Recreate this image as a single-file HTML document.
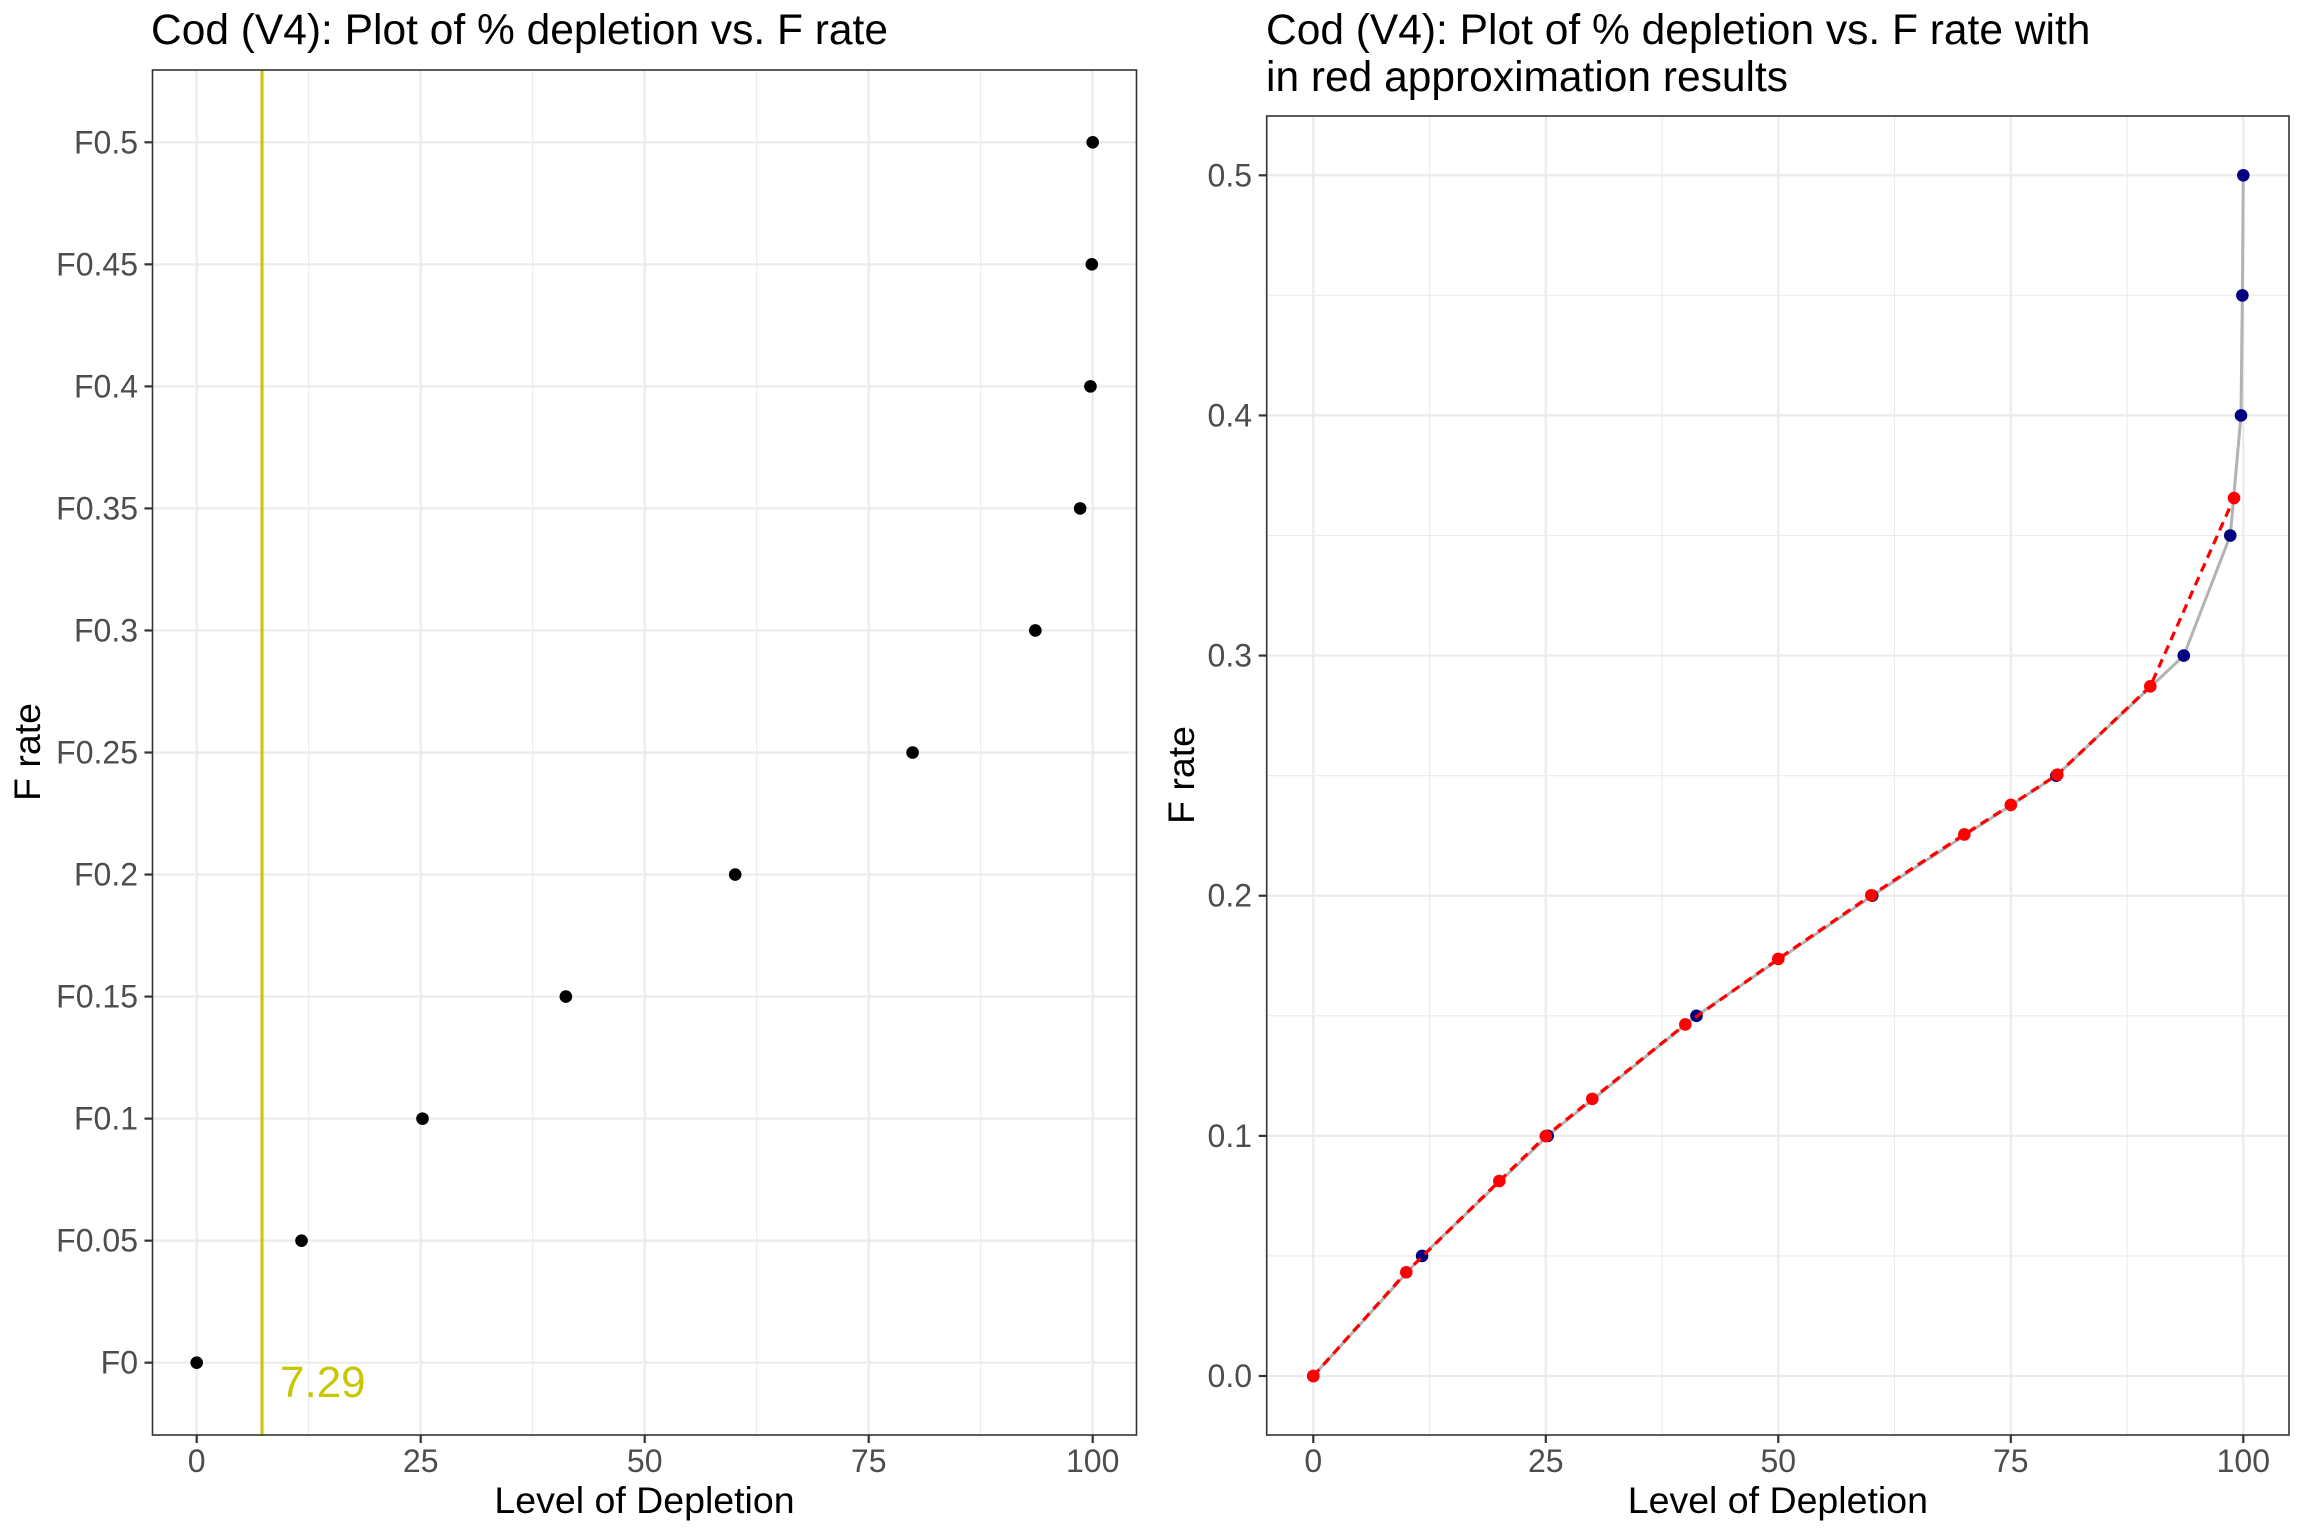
<!DOCTYPE html>
<html><head><meta charset="utf-8"><style>
html,body{margin:0;padding:0;background:#fff;}
svg{display:block;font-family:"Liberation Sans",Arial,sans-serif;}
</style></head><body>
<svg id="c" width="2304" height="1536" viewBox="0 0 2304 1536" xmlns="http://www.w3.org/2000/svg">
<rect x="0" y="0" width="2304" height="1536" fill="#fff"/>
<g id="left"></g>
<g id="right"></g>
</svg>
<script>
// Left chart data
const leftFLabels = ["F0","F0.05","F0.1","F0.15","F0.2","F0.25","F0.3","F0.35","F0.4","F0.45","F0.5"];
const leftDepletion = [0, 11.7, 25.2, 41.2, 60.1, 79.9, 93.6, 98.6, 99.75, 99.9, 100];
const leftXTicks = [0, 25, 50, 75, 100];
const refLineValue = 7.29;
// Right chart data
const rightXTicks = [0, 25, 50, 75, 100];
const rightYTicks = [0, 0.1, 0.2, 0.3, 0.4, 0.5];
const rightYTickLabels = ["0.0","0.1","0.2","0.3","0.4","0.5"];
const blueF = [0, 0.05, 0.1, 0.15, 0.2, 0.25, 0.3, 0.35, 0.4, 0.45, 0.5];
const blueDepletion = [0, 11.7, 25.2, 41.2, 60.1, 79.9, 93.6, 98.6, 99.75, 99.9, 100];
const redDepletion = [0, 10, 20, 25, 30, 40, 50, 60, 70, 75, 80, 90, 99];
const redF = [0, 0.0432, 0.0812, 0.0999, 0.1154, 0.1464, 0.1737, 0.2002, 0.2255, 0.2378, 0.2504, 0.2872, 0.3656];

const NS="http://www.w3.org/2000/svg";
function mk(parent,tag,attrs,text){const e=document.createElementNS(NS,tag);for(const k in attrs)e.setAttribute(k,attrs[k]);if(text!==undefined)e.textContent=text;parent.appendChild(e);return e;}
const GRID="#ebebeb", TICKLBL="#4d4d4d";
const TFS=32, AFS=37.5, TTFS=42.5;

// ---------- LEFT ----------
(function(){
const g=document.getElementById('left');
const L={x0:152.5,x1:1136.5,y0:70,y1:1435};
const xs=v=>196.7+(1092.7-196.7)*v/100;
const ys=i=>1362.7-(1362.7-142.3)*i/10;
for(let i=0;i<leftXTicks.length-1;i++){const m=(leftXTicks[i]+leftXTicks[i+1])/2;
 const l=mk(g,'line',{x1:xs(m),x2:xs(m),y1:L.y0,y2:L.y1,stroke:GRID,'stroke-width':1.1});
 }
leftFLabels.forEach((lab,i)=>{const l=mk(g,'line',{x1:L.x0,x2:L.x1,y1:ys(i),y2:ys(i),stroke:GRID,'stroke-width':2.2});
 });
leftXTicks.forEach(v=>{const l=mk(g,'line',{x1:xs(v),x2:xs(v),y1:L.y0,y2:L.y1,stroke:GRID,'stroke-width':2.2});
 });
const rl=mk(g,'line',{x1:xs(refLineValue),x2:xs(refLineValue),y1:L.y0,y2:L.y1,stroke:'#c8c800','stroke-width':3});

const rt=mk(g,'text',{x:xs(refLineValue)+18,y:1397,fill:'#c8c800','font-size':44},String(refLineValue));

leftDepletion.forEach((d,i)=>{const c=mk(g,'circle',{cx:xs(d),cy:ys(i),r:6.3,fill:'#000'});
 });
const b=mk(g,'rect',{x:L.x0,y:L.y0,width:L.x1-L.x0,height:L.y1-L.y0,fill:'none',stroke:'#333','stroke-width':1.6});

leftXTicks.forEach(v=>{mk(g,'line',{x1:xs(v),x2:xs(v),y1:L.y1,y2:L.y1+8,stroke:'#333','stroke-width':2.2});
 const t=mk(g,'text',{x:xs(v),y:1472,'text-anchor':'middle','font-size':TFS,fill:TICKLBL},String(v));
 });
leftFLabels.forEach((lab,i)=>{mk(g,'line',{x1:L.x0-8,x2:L.x0,y1:ys(i),y2:ys(i),stroke:'#333','stroke-width':2.2});
 const t=mk(g,'text',{x:138,y:ys(i)+11,'text-anchor':'end','font-size':TFS,fill:TICKLBL},lab);
 });
const xt=mk(g,'text',{x:(L.x0+L.x1)/2,y:1513,'text-anchor':'middle','font-size':AFS,fill:'#000'},'Level of Depletion');

const yt=mk(g,'text',{x:0,y:0,'text-anchor':'middle','font-size':AFS,fill:'#000',transform:'translate(40,752) rotate(-90)'},'F rate');

const ti=mk(g,'text',{x:151,y:44,'font-size':TTFS,fill:'#000'},'Cod (V4): Plot of % depletion vs. F rate');

})();

// ---------- RIGHT ----------
(function(){
const g=document.getElementById('right');
const R={x0:1266.7,x1:2289,y0:116,y1:1435};
const xs=v=>1313.3+(2243.3-1313.3)*v/100;
const ys=v=>1376-(1376-175.3)*v/0.5;
for(let i=0;i<rightXTicks.length-1;i++){const m=(rightXTicks[i]+rightXTicks[i+1])/2;
 const l=mk(g,'line',{x1:xs(m),x2:xs(m),y1:R.y0,y2:R.y1,stroke:GRID,'stroke-width':1.1});
 }
for(let i=0;i<rightYTicks.length-1;i++){const m=(rightYTicks[i]+rightYTicks[i+1])/2;
 const l=mk(g,'line',{x1:R.x0,x2:R.x1,y1:ys(m),y2:ys(m),stroke:GRID,'stroke-width':1.1});
 }
rightYTicks.forEach(v=>{const l=mk(g,'line',{x1:R.x0,x2:R.x1,y1:ys(v),y2:ys(v),stroke:GRID,'stroke-width':2.2});
 });
rightXTicks.forEach(v=>{const l=mk(g,'line',{x1:xs(v),x2:xs(v),y1:R.y0,y2:R.y1,stroke:GRID,'stroke-width':2.2});
 });
const gp=blueDepletion.map((d,i)=>xs(d)+','+ys(blueF[i])).join(' ');
const gl=mk(g,'polyline',{points:gp,fill:'none',stroke:'#b3b3b3','stroke-width':3});

blueDepletion.forEach((d,i)=>{const c=mk(g,'circle',{cx:xs(d),cy:ys(blueF[i]),r:6.3,fill:'#000080'});
 });
const rp=redDepletion.map((d,i)=>xs(d)+','+ys(redF[i])).join(' ');
const rl=mk(g,'polyline',{points:rp,fill:'none',stroke:'#ff0000','stroke-width':3.2,'stroke-dasharray':'9 6'});

redDepletion.forEach((d,i)=>{const c=mk(g,'circle',{cx:xs(d),cy:ys(redF[i]),r:6.3,fill:'#ff0000'});
 });
const b=mk(g,'rect',{x:R.x0,y:R.y0,width:R.x1-R.x0,height:R.y1-R.y0,fill:'none',stroke:'#333','stroke-width':1.6});

rightXTicks.forEach(v=>{mk(g,'line',{x1:xs(v),x2:xs(v),y1:R.y1,y2:R.y1+8,stroke:'#333','stroke-width':2.2});
 const t=mk(g,'text',{x:xs(v),y:1472,'text-anchor':'middle','font-size':TFS,fill:TICKLBL},String(v));
 });
rightYTicks.forEach((v,i)=>{mk(g,'line',{x1:R.x0-8,x2:R.x0,y1:ys(v),y2:ys(v),stroke:'#333','stroke-width':2.2});
 const t=mk(g,'text',{x:1252,y:ys(v)+11,'text-anchor':'end','font-size':TFS,fill:TICKLBL},rightYTickLabels[i]);
 });
const xt=mk(g,'text',{x:(R.x0+R.x1)/2,y:1513,'text-anchor':'middle','font-size':AFS,fill:'#000'},'Level of Depletion');

const yt=mk(g,'text',{x:0,y:0,'text-anchor':'middle','font-size':AFS,fill:'#000',transform:'translate(1194,775) rotate(-90)'},'F rate');

const t1=mk(g,'text',{x:1266,y:44,'font-size':TTFS,fill:'#000'},'Cod (V4): Plot of % depletion vs. F rate with');

const t2=mk(g,'text',{x:1266,y:91,'font-size':TTFS,fill:'#000'},'in red approximation results');

})();
</script>
</body></html>
